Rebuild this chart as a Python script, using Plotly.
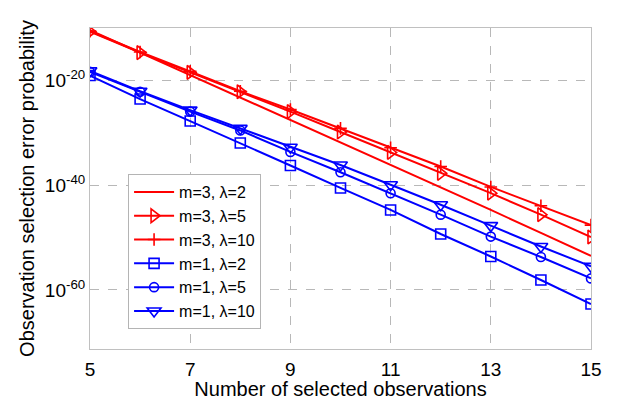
import plotly.graph_objects as go

n_obs = [5, 6, 7, 8, 9, 10, 11, 12, 13, 14, 15]

m3_l2 = [5.0e-11, 2.5e-15, 1.3e-19, 7.9e-24, 3.2e-28, 1.6e-32, 1.0e-36, 5.0e-41, 2.0e-45, 7.9e-50, 3.2e-54]
m3_l5 = [2.5e-11, 2.5e-15, 4.0e-19, 7.9e-23, 1.3e-26, 1.6e-30, 2.0e-34, 2.0e-38, 3.2e-42, 2.5e-46, 1.3e-50]
m3_l10 = [3.2e-11, 3.2e-15, 6.3e-19, 1.0e-22, 3.2e-26, 7.9e-30, 1.6e-33, 4.0e-37, 5.0e-41, 1.3e-44, 2.5e-48]
m1_l2 = [1.0e-19, 3.2e-24, 2.0e-28, 1.3e-32, 6.3e-37, 3.2e-41, 2.0e-45, 5.0e-50, 2.5e-54, 7.9e-59, 2.0e-63]
m1_l5 = [5.0e-19, 7.9e-23, 1.3e-26, 3.2e-30, 2.5e-34, 3.2e-38, 3.2e-42, 2.5e-46, 1.6e-50, 2.0e-54, 1.6e-58]
m1_l10 = [7.9e-19, 1.0e-22, 2.5e-26, 7.9e-30, 2.0e-33, 7.9e-37, 1.3e-40, 2.0e-44, 2.0e-48, 2.0e-52, 3.2e-56]

series_names = ["m=3, λ=2", "m=3, λ=5", "m=3, λ=10", "m=1, λ=2", "m=1, λ=5", "m=1, λ=10"]

x_ticks = [5, 7, 9, 11, 13, 15]
y_ticks = [1e-60, 1e-40, 1e-20]
y_tick_text = ["10<sup>-60</sup>", "10<sup>-40</sup>", "10<sup>-20</sup>"]

RED = "#ff0000"
BLUE = "#0000ff"

styles = [
    (m3_l2, RED, None, 0),
    (m3_l5, RED, "triangle-right-open", 12),
    (m3_l10, RED, "cross-thin-open", 9),
    (m1_l2, BLUE, "square-open", 10),
    (m1_l5, BLUE, "circle-open", 9),
    (m1_l10, BLUE, "triangle-down-open", 12),
]

fig = go.Figure()
for (vals, col, sym, size), name in zip(styles, series_names):
    if sym is None:
        fig.add_trace(go.Scatter(x=n_obs, y=vals, name=name, mode="lines",
                                 line=dict(color=col, width=2)))
    else:
        fig.add_trace(go.Scatter(x=n_obs, y=vals, name=name, mode="lines+markers",
                                 line=dict(color=col, width=2),
                                 marker=dict(symbol=sym, size=size, color=col,
                                             line=dict(color=col, width=1.6))))

font = "Liberation Sans, Arial, sans-serif"
fig.update_layout(
    width=619, height=400,
    margin=dict(l=90, r=28, t=28, b=51, autoexpand=False),
    paper_bgcolor="white", plot_bgcolor="white",
    font=dict(family=font, color="black"),
    showlegend=True,
    legend=dict(x=0.076, y=0.545, xanchor="left", yanchor="top",
                bgcolor="white", bordercolor="#b4b4b4", borderwidth=1,
                font=dict(size=16, family=font), itemwidth=40,
                tracegroupgap=0),
)
fig.update_xaxes(
    range=[5, 15], tickvals=x_ticks, ticks="", automargin=False,
    tickfont=dict(size=19), ticklabelstandoff=3,
    showgrid=True, gridcolor="#b8b8b8", griddash="dash", gridwidth=1,
    showline=True, linecolor="#c0c0c0", linewidth=1, mirror=True,
    zeroline=False,
    title=dict(text="Number of selected observations", font=dict(size=20), standoff=2),
)
fig.update_yaxes(
    type="log", range=[-71.3, -9.9], automargin=False,
    tickvals=y_ticks, ticktext=y_tick_text, ticks="",
    tickfont=dict(size=19),
    showgrid=True, gridcolor="#b8b8b8", griddash="dash", gridwidth=1,
    showline=True, linecolor="#c0c0c0", linewidth=1, mirror=True,
    zeroline=False,
    title=dict(text="Observation selection error probability", font=dict(size=20), standoff=4),
)

fig.write_html("out.html")
